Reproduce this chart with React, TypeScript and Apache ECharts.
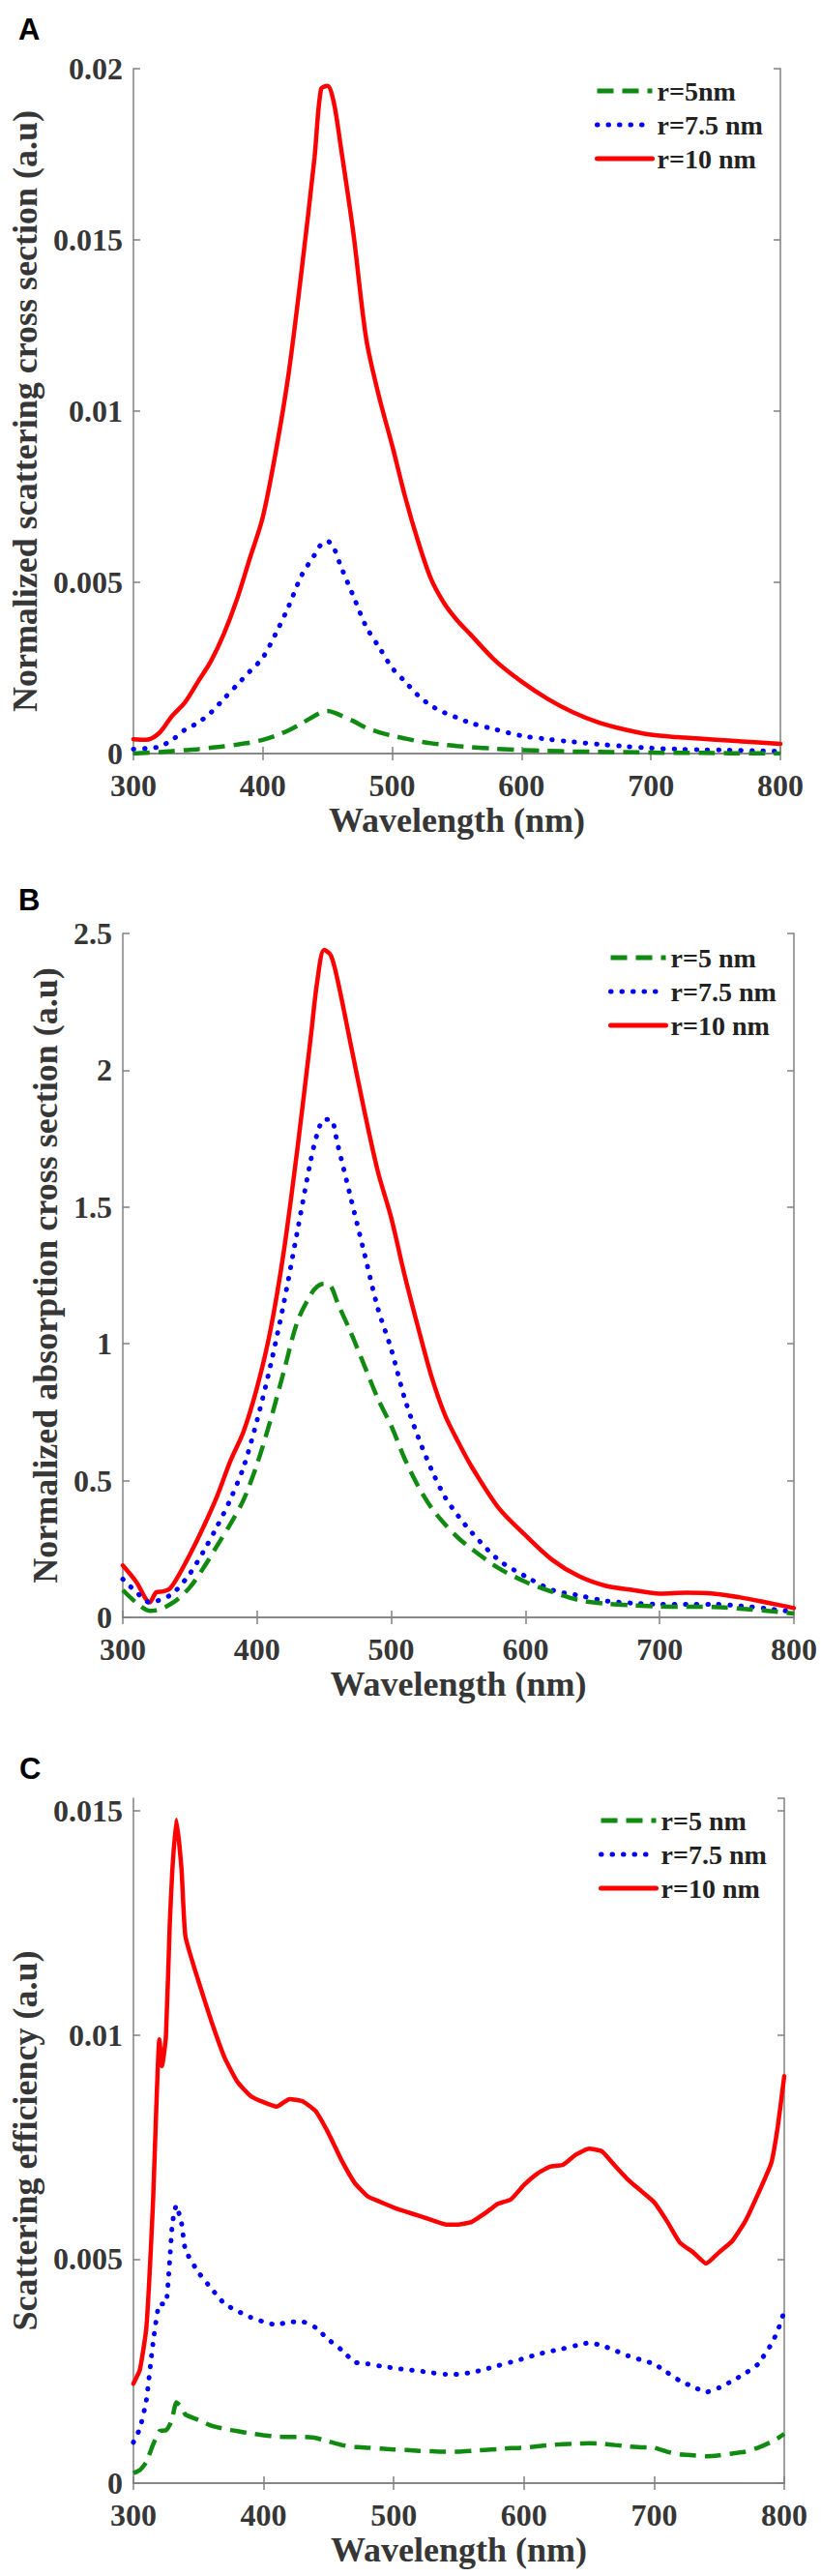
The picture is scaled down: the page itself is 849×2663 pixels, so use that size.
import React, { useEffect, useRef } from "react";
import * as echarts from "echarts";

// ---------- Panel A: normalized scattering cross section ----------
const A_WL = [300, 310, 320, 330, 340, 350, 360, 370, 380, 390, 400, 410, 420, 430, 440, 445, 450, 455, 460, 470, 480, 490, 500, 510, 520, 530, 540, 550, 560, 580, 600, 620, 640, 660, 680, 700, 720, 740, 760, 780, 800];
const A_R5 = [0, 0.00002, 0.00004, 0.00007, 0.0001, 0.00013, 0.00017, 0.00021, 0.00026, 0.00032, 0.0004, 0.00052, 0.00068, 0.00088, 0.0011, 0.0012, 0.00124, 0.0012, 0.00112, 0.00095, 0.00075, 0.00062, 0.00052, 0.00044, 0.00036, 0.0003, 0.00026, 0.00022, 0.00019, 0.00014, 0.0001, 0.00008, 0.00006, 0.00005, 0.00004, 0.00003, 0.00002, 0.00002, 0.00001, 0.00001, 0];
const A_R75 = [0.00013, 0.00015, 0.0002, 0.0004, 0.0007, 0.0009, 0.0012, 0.0016, 0.002, 0.0024, 0.0028, 0.0035, 0.0043, 0.0052, 0.0058, 0.0061, 0.0062, 0.006, 0.0055, 0.0046, 0.0037, 0.0031, 0.0025, 0.0021, 0.0017, 0.0014, 0.0012, 0.00105, 0.0009, 0.0007, 0.00052, 0.00042, 0.00034, 0.00027, 0.00021, 0.00016, 0.00013, 0.00011, 0.0001, 0.00008, 0.00007];
const A_R10 = [0.00042, 0.0004, 0.0006, 0.0011, 0.0015, 0.0021, 0.0027, 0.0035, 0.0045, 0.0057, 0.0069, 0.0088, 0.0111, 0.0141, 0.0174, 0.0194, 0.0195, 0.019, 0.0178, 0.0152, 0.0121, 0.0104, 0.009, 0.0075, 0.0062, 0.0051, 0.0044, 0.0039, 0.0035, 0.0027, 0.0021, 0.0016, 0.0012, 0.0009, 0.0007, 0.00055, 0.00048, 0.00043, 0.00038, 0.00033, 0.00028];

// ---------- Panel B: normalized absorption cross section ----------
const B_WL = [300, 310, 320, 325, 330, 335, 340, 350, 360, 370, 380, 390, 400, 410, 420, 430, 440, 445, 450, 455, 460, 470, 480, 490, 500, 510, 520, 530, 540, 550, 560, 580, 600, 620, 640, 660, 680, 700, 720, 740, 760, 780, 800];
const B_R5 = [0.1, 0.054, 0.024, 0.026, 0.034, 0.047, 0.063, 0.11, 0.18, 0.26, 0.34, 0.43, 0.56, 0.72, 0.9, 1.08, 1.18, 1.21, 1.22, 1.21, 1.15, 1.04, 0.92, 0.8, 0.7, 0.58, 0.48, 0.4, 0.34, 0.29, 0.25, 0.18, 0.13, 0.093, 0.063, 0.05, 0.044, 0.04, 0.039, 0.038, 0.032, 0.024, 0.014];
const B_R75 = [0.14, 0.093, 0.055, 0.06, 0.067, 0.08, 0.1, 0.16, 0.24, 0.33, 0.43, 0.55, 0.72, 0.92, 1.15, 1.41, 1.67, 1.77, 1.82, 1.82, 1.73, 1.53, 1.33, 1.13, 0.98, 0.8, 0.66, 0.54, 0.44, 0.37, 0.31, 0.21, 0.15, 0.1, 0.08, 0.06, 0.052, 0.048, 0.048, 0.048, 0.042, 0.032, 0.02];
const B_R10 = [0.19, 0.13, 0.055, 0.092, 0.095, 0.105, 0.14, 0.23, 0.33, 0.44, 0.57, 0.68, 0.84, 1.05, 1.34, 1.71, 2.12, 2.33, 2.44, 2.42, 2.33, 2.09, 1.85, 1.63, 1.46, 1.25, 1.06, 0.88, 0.74, 0.64, 0.55, 0.4, 0.3, 0.21, 0.15, 0.115, 0.1, 0.087, 0.09, 0.087, 0.073, 0.054, 0.034];

// ---------- Panel C: scattering efficiency ----------
const C_WL = [300, 305, 310, 315, 320, 322, 325, 328, 330, 333, 337, 340, 350, 360, 370, 380, 390, 400, 410, 420, 430, 440, 450, 460, 470, 480, 490, 500, 510, 520, 530, 540, 550, 560, 570, 580, 590, 600, 610, 620, 630, 640, 650, 660, 670, 680, 690, 700, 710, 720, 730, 740, 750, 760, 770, 780, 790, 795, 800];
const C_R5 = [0.00022, 0.00029, 0.00047, 0.00085, 0.00116, 0.00117, 0.00118, 0.0013, 0.00147, 0.0018, 0.0017, 0.00153, 0.00141, 0.00128, 0.00121, 0.00116, 0.00111, 0.00107, 0.00104, 0.00103, 0.00103, 0.00101, 0.00093, 0.00085, 0.00081, 0.00079, 0.00077, 0.00075, 0.00074, 0.00072, 0.00071, 0.0007, 0.0007, 0.00072, 0.00074, 0.00076, 0.00078, 0.00079, 0.00082, 0.00085, 0.00087, 0.00088, 0.00089, 0.00088, 0.00085, 0.00082, 0.0008, 0.00079, 0.0007, 0.00064, 0.00062, 0.0006, 0.00062, 0.00066, 0.0007, 0.00079, 0.00092, 0.001, 0.0011];
const C_R75 = [0.00091, 0.00122, 0.00185, 0.0031, 0.004, 0.004, 0.004, 0.005, 0.0058, 0.0062, 0.0058, 0.0052, 0.0047, 0.00434, 0.004, 0.00384, 0.0037, 0.0036, 0.00353, 0.0036, 0.0036, 0.00347, 0.0032, 0.00297, 0.0027, 0.00266, 0.00261, 0.00257, 0.00253, 0.0025, 0.00246, 0.00243, 0.00243, 0.00247, 0.00254, 0.00262, 0.0027, 0.00278, 0.00287, 0.00294, 0.003, 0.00307, 0.00313, 0.00307, 0.00296, 0.00284, 0.00275, 0.00266, 0.00247, 0.00228, 0.00215, 0.00203, 0.00213, 0.00228, 0.00245, 0.00266, 0.0031, 0.0034, 0.00384];
const C_R10 = [0.00222, 0.00253, 0.00347, 0.0062, 0.0099, 0.0093, 0.00995, 0.0125, 0.0137, 0.0148, 0.0137, 0.0122, 0.0112, 0.0103, 0.0095, 0.00895, 0.00864, 0.0085, 0.0084, 0.00857, 0.00852, 0.0083, 0.0078, 0.0072, 0.0067, 0.0064, 0.00627, 0.00615, 0.00605, 0.00596, 0.00586, 0.00577, 0.00577, 0.00583, 0.00602, 0.00623, 0.00633, 0.00665, 0.0069, 0.00706, 0.0071, 0.00733, 0.00746, 0.0074, 0.00708, 0.00677, 0.00652, 0.00627, 0.00584, 0.00536, 0.00515, 0.0049, 0.00515, 0.0054, 0.00584, 0.00646, 0.00714, 0.00795, 0.00908];

const NAMES_A = ["r=5nm", "r=7.5 nm", "r=10 nm"];
const NAMES_BC = ["r=5 nm", "r=7.5 nm", "r=10 nm"];
const X_TITLE = "Wavelength (nm)";
const Y_TITLES = [
  "Normalized scattering cross section (a.u)",
  "Normalized absorption cross section (a.u)",
  "Scattering efficiency (a.u)",
];
const PANEL_LETTERS = ["A", "B", "C"];

const SERIF = "'Liberation Serif', 'Times New Roman', serif";
const AXIS_GRAY = "#808080";
const TEXT_GRAY = "#363636";

const zip = (xs: number[], ys: number[]) => xs.map((x, i) => [x, ys[i]]);

const lineStyles = [
  { color: "#118a11", width: 4.5, type: [17, 9], cap: "butt" },
  { color: "#0000ff", width: 5, type: [0.5, 11], cap: "round" },
  { color: "#ff0000", width: 4.5, type: "solid", cap: "round" },
];

export default function App() {
  const ref = useRef<HTMLDivElement>(null);
  useEffect(() => {
    if (!ref.current) return;
    const chart = echarts.init(ref.current, undefined, { renderer: "svg" });

    const grids = [
      { left: 128, top: 71, width: 679, height: 708 },
      { left: 127, top: 965, width: 694, height: 707 },
      { left: 133, top: 1859, width: 678, height: 708 },
    ];
    const yCfg = [
      { max: 0.02, interval: 0.005, nameGap: 88 },
      { max: 2.5, interval: 0.5, nameGap: 58 },
      { max: 0.01528, interval: 0.005, nameGap: 88 },
    ];
    const legendPos = [
      { left: 615, top: 80 },
      { left: 629, top: 976 },
      { left: 619, top: 1868 },
    ];
    const letterPos = [
      { x: 19, y: 15 },
      { x: 19, y: 915 },
      { x: 20, y: 1813 },
    ];

    const axisLine = { show: true, lineStyle: { color: AXIS_GRAY, width: 1.5 } };
    const axisTick = { show: true, inside: true, length: 7, lineStyle: { color: AXIS_GRAY, width: 1.5 } };
    const labelStyle = { fontSize: 32, fontWeight: "bold", fontFamily: SERIF, color: TEXT_GRAY };
    const nameStyle = { fontSize: 36, fontWeight: "bold", fontFamily: SERIF, color: TEXT_GRAY };

    const xAxis: any[] = [];
    const yAxis: any[] = [];
    grids.forEach((_, k) => {
      xAxis.push({
        type: "value", gridIndex: k, position: "bottom", min: 300, max: 800, interval: 100,
        axisLine, axisTick, splitLine: { show: false },
        axisLabel: { ...labelStyle, margin: 17 },
        name: X_TITLE, nameLocation: "middle", nameGap: 51, nameTextStyle: nameStyle,
      });
      xAxis.push({
        type: "value", gridIndex: k, position: "top", min: 300, max: 800, interval: 100,
        axisLine, axisTick, splitLine: { show: false }, axisLabel: { show: false },
      });
      yAxis.push({
        type: "value", gridIndex: k, position: "left", min: 0, max: yCfg[k].max, interval: yCfg[k].interval,
        axisLine, axisTick, splitLine: { show: false },
        axisLabel: { ...labelStyle, margin: 11, padding: [7, 0, 0, 0], showMaxLabel: k === 2 ? false : true },
        name: Y_TITLES[k], nameLocation: "middle", nameRotate: 90, nameGap: yCfg[k].nameGap, nameTextStyle: nameStyle,
      });
      yAxis.push({
        type: "value", gridIndex: k, position: "right", min: 0, max: yCfg[k].max, interval: yCfg[k].interval,
        axisLine, axisTick, splitLine: { show: false }, axisLabel: { show: false },
      });
    });

    const panels = [
      { wl: A_WL, ys: [A_R5, A_R75, A_R10], names: NAMES_A, smooth: 0.3 },
      { wl: B_WL, ys: [B_R5, B_R75, B_R10], names: NAMES_BC, smooth: 0.3 },
      { wl: C_WL, ys: [C_R5, C_R75, C_R10], names: NAMES_BC, smooth: 0.15 },
    ];
    const series: any[] = [];
    panels.forEach((p, k) => {
      p.ys.forEach((ys, j) => {
        series.push({
          type: "line", name: p.names[j], xAxisIndex: 2 * k, yAxisIndex: 2 * k,
          data: zip(p.wl, ys), symbol: "none", showSymbol: false, smooth: p.smooth,
          lineStyle: lineStyles[j], itemStyle: { color: lineStyles[j].color },
          z: 3 - j,
        });
      });
    });

    const legend = panels.map((p, k) => ({
      orient: "vertical", left: legendPos[k].left, top: legendPos[k].top, padding: 0,
      itemWidth: 57, itemHeight: 14, itemGap: 7, selectedMode: false,
      data: p.names,
      itemStyle: { opacity: 0 },
      lineStyle: { width: 5 },
      textStyle: { fontSize: 28, fontWeight: "bold", fontFamily: SERIF, color: "#222" },
    }));

    const graphic = PANEL_LETTERS.map((t, k) => ({
      type: "text", left: letterPos[k].x, top: letterPos[k].y,
      style: { text: t, fontSize: 31, fontWeight: "bold", fontFamily: "'Liberation Sans', Arial, sans-serif", fill: "#000" },
    }));

    chart.setOption({
      animation: false,
      backgroundColor: "#ffffff",
      grid: grids.map((g) => ({ ...g, containLabel: false })),
      xAxis, yAxis, series, legend, graphic,
    });
    return () => chart.dispose();
  }, []);
  return (
    <div
      ref={ref}
      style={{ position: "absolute", left: 0, top: 0, width: 849, height: 2663, background: "#fff" }}
    />
  );
}
